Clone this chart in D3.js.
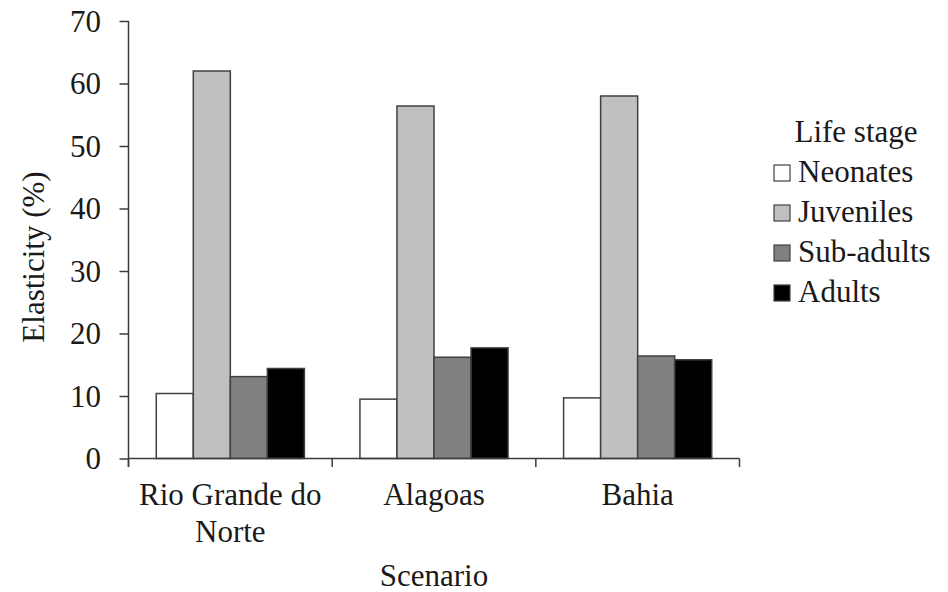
<!DOCTYPE html>
<html><head><meta charset="utf-8">
<script src="https://cdn.jsdelivr.net/npm/d3@7"></script>
<style>body{margin:0;background:#fff}svg{display:block}</style>
</head><body><svg id="c" width="948" height="592"></svg>
<script>
const categories = ["Rio Grande do Norte", "Alagoas", "Bahia"];
const categoryLines = [["Rio Grande do", "Norte"], ["Alagoas"], ["Bahia"]];
const stages = ["Neonates", "Juveniles", "Sub-adults", "Adults"];
const neonates = [10.4, 9.5, 9.7];
const juveniles = [62.0, 56.4, 58.0];
const subAdults = [13.1, 16.2, 16.4];
const adults = [14.4, 17.7, 15.8];
const yTicks = [0, 10, 20, 30, 40, 50, 60, 70];
const colors = ["#ffffff", "#c0c0c0", "#808080", "#000000"];

const series = [neonates, juveniles, subAdults, adults];
const svg = d3.select("#c");
const FONT = "'Liberation Serif', 'Times New Roman', serif";
const FS = 31;
const ink = "#1a1a1a", axisCol = "#3c3c3c";

const y = d3.scaleLinear().domain([0, 70]).range([458.5, 21]);
const x0 = d3.scaleBand().domain(categories).range([128.5, 739.5]);
const bw = x0.bandwidth();
const barW = bw / 5.5;
const x1 = d3.scaleBand().domain(stages).range([barW * 0.75, bw - barW * 0.75]);

function sText(g, x, yy, txt, anchor) {
  return g.append("text").attr("x", x).attr("y", yy).attr("text-anchor", anchor)
    .attr("font-family", FONT).attr("font-size", FS).attr("fill", ink).text(txt);
}

// bars
const gBars = svg.append("g");
categories.forEach((c, ci) => {
  stages.forEach((s, si) => {
    const v = series[si][ci];
    gBars.append("rect")
      .attr("x", x0(c) + x1(s)).attr("width", x1.bandwidth())
      .attr("y", y(v)).attr("height", y(0) - y(v))
      .attr("fill", colors[si]).attr("stroke", "#404040").attr("stroke-width", 1.5);
  });
});

// y axis
const yAxis = d3.axisLeft(y).tickValues(yTicks).tickSize(9).tickFormat("");
const gy = svg.append("g").attr("transform", "translate(128.5,0)").call(yAxis);
gy.select(".domain").attr("stroke", axisCol).attr("stroke-width", 1.5).attr("d", "M0,21V467");
gy.selectAll(".tick line").attr("stroke", axisCol).attr("stroke-width", 1.5);
yTicks.forEach(t => sText(svg, 101, y(t) + 10.5, String(t), "end"));

// x axis
const gx = svg.append("g").attr("transform", "translate(0,458.5)");
gx.append("line").attr("x1", 128.5).attr("x2", 739.5).attr("y1", 0).attr("y2", 0)
  .attr("stroke", axisCol).attr("stroke-width", 1.5);
const bounds = categories.map(c => x0(c)).concat([x0(categories[categories.length - 1]) + bw]);
gx.selectAll("line.tk").data(bounds).join("line").attr("class", "tk")
  .attr("x1", d => d).attr("x2", d => d).attr("y1", 0).attr("y2", 8.5)
  .attr("stroke", axisCol).attr("stroke-width", 1.5);
categories.forEach((c, ci) => {
  categoryLines[ci].forEach((ln, li) => {
    sText(svg, x0(c) + bw / 2, 505 + li * 36.7, ln, "middle");
  });
});

// axis titles
sText(svg, (128.5 + 739.5) / 2, 586, "Scenario", "middle");
svg.append("text").attr("transform", "translate(44,257) rotate(-90)")
  .attr("text-anchor", "middle").attr("font-family", FONT).attr("font-size", FS)
  .attr("fill", ink).text("Elasticity (%)");

// legend
sText(svg, 856, 142, "Life stage", "middle");
stages.forEach((s, i) => {
  const yy = 165 + i * 40;
  svg.append("rect").attr("x", 774).attr("y", yy).attr("width", 16).attr("height", 16)
    .attr("fill", colors[i]).attr("stroke", "#404040").attr("stroke-width", 1.2);
  sText(svg, 798, yy + 17, s, "start");
});
</script></body></html>
